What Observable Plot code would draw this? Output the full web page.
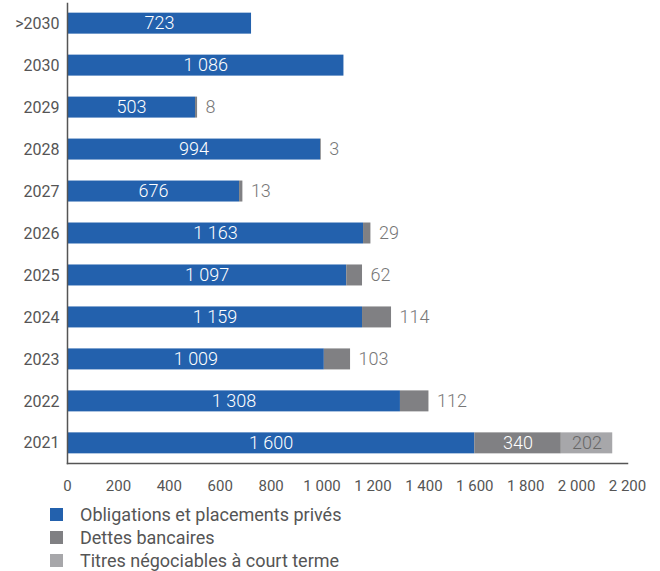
<!DOCTYPE html>
<html>
<head>
<meta charset="utf-8">
<script src="https://cdn.jsdelivr.net/npm/d3@7"></script>
<script src="https://cdn.jsdelivr.net/npm/@observablehq/plot@0.6"></script>
<style>
  body { margin: 0; background: #fff; font-family: Roboto, "Noto Sans", sans-serif; }
  #chart { width: 660px; }
  .legend { padding-top: 3px; padding-left: 50px; }
  .legend .row { height: 23px; line-height: 23px; font-size: 18px; color: #555; display: flex; align-items: center; }
  .legend .sw { width: 13px; height: 13px; margin-right: 17px; flex: none; }
</style>
</head>
<body>
<div id="chart"></div>
<script>
const years = [">2030", "2030", "2029", "2028", "2027", "2026", "2025", "2024", "2023", "2022", "2021"];
const obligations = [723, 1086, 503, 994, 676, 1163, 1097, 1159, 1009, 1308, 1600];
const dettes = [0, 0, 8, 3, 13, 29, 62, 114, 103, 112, 340];
const titres = [0, 0, 0, 0, 0, 0, 0, 0, 0, 0, 202];
const seriesNames = ["Obligations et placements privés", "Dettes bancaires", "Titres négociables à court terme"];
const seriesColors = ["#2361ad", "#808083", "#a7a7aa"];
const xTicks = [0, 200, 400, 600, 800, 1000, 1200, 1400, 1600, 1800, 2000, 2200];

const fr = d3.formatLocale({decimal: ",", thousands: "\u00a0", grouping: [3], currency: ["", " €"]});
const fmt = fr.format(",d");

// long table for stacking
const rows = [];
years.forEach((y, i) => {
  rows.push({year: y, type: seriesNames[0], value: obligations[i], inside: true, light: false});
  rows.push({year: y, type: seriesNames[1], value: dettes[i], inside: y === "2021", light: false});
  rows.push({year: y, type: seriesNames[2], value: titres[i], inside: true, light: true});
});
const outside = years.map((y, i) => ({year: y, end: obligations[i] + dettes[i], value: dettes[i]}))
  .filter(d => d.value > 0 && d.year !== "2021");

const plot = Plot.plot({
  width: 660,
  height: 500,
  marginLeft: 67,
  marginRight: 33,
  marginTop: 3,
  marginBottom: 37,
  style: {fontFamily: "Roboto, sans-serif", fontSize: "15px", color: "#555", background: "#fff"},
  x: {domain: [0, 2200], ticks: xTicks, tickFormat: fmt, tickSize: 0, tickPadding: 17, label: null},
  y: {domain: years, paddingInner: 0.5, paddingOuter: 0.23, round: false, tickSize: 0, tickPadding: 8, label: null},
  color: {domain: seriesNames, range: seriesColors},
  marks: [
    Plot.axisY({tickSize: 0, tickPadding: 8, fontSize: 16, label: null}),
    Plot.axisX({ticks: xTicks, tickFormat: fmt, tickSize: 0, tickPadding: 17, fontSize: 15, label: null}),
    Plot.barX(rows, Plot.stackX({x: "value", y: "year", z: "type", fill: "type", order: seriesNames})),
    Plot.text(rows, Plot.stackX({
      x: "value", y: "year", z: "type", order: seriesNames,
      text: d => (d.value > 0 && d.inside && !d.light) ? fmt(d.value) : null,
      fill: "white", fontSize: 18, fontWeight: 300
    })),
    Plot.text(rows, Plot.stackX({
      x: "value", y: "year", z: "type", order: seriesNames,
      text: d => (d.value > 0 && d.light) ? fmt(d.value) : null,
      fill: "#666", fontSize: 18, fontWeight: 300
    })),
    Plot.text(outside, {
      x: "end", y: "year", text: d => fmt(d.value),
      textAnchor: "start", dx: 8, fill: "#777", fontSize: 18, fontWeight: 300
    }),
    Plot.frame({anchor: "left", stroke: "#555", strokeWidth: 1.5}),
    Plot.frame({anchor: "bottom", stroke: "#555", strokeWidth: 1.5})
  ]
});
document.getElementById("chart").appendChild(plot);

const legend = document.createElement("div");
legend.className = "legend";
seriesNames.forEach((n, i) => {
  const r = document.createElement("div");
  r.className = "row";
  const sw = document.createElement("span");
  sw.className = "sw";
  sw.style.background = seriesColors[i];
  const t = document.createElement("span");
  t.textContent = n;
  r.appendChild(sw); r.appendChild(t);
  legend.appendChild(r);
});
document.getElementById("chart").appendChild(legend);
</script>
</body>
</html>
